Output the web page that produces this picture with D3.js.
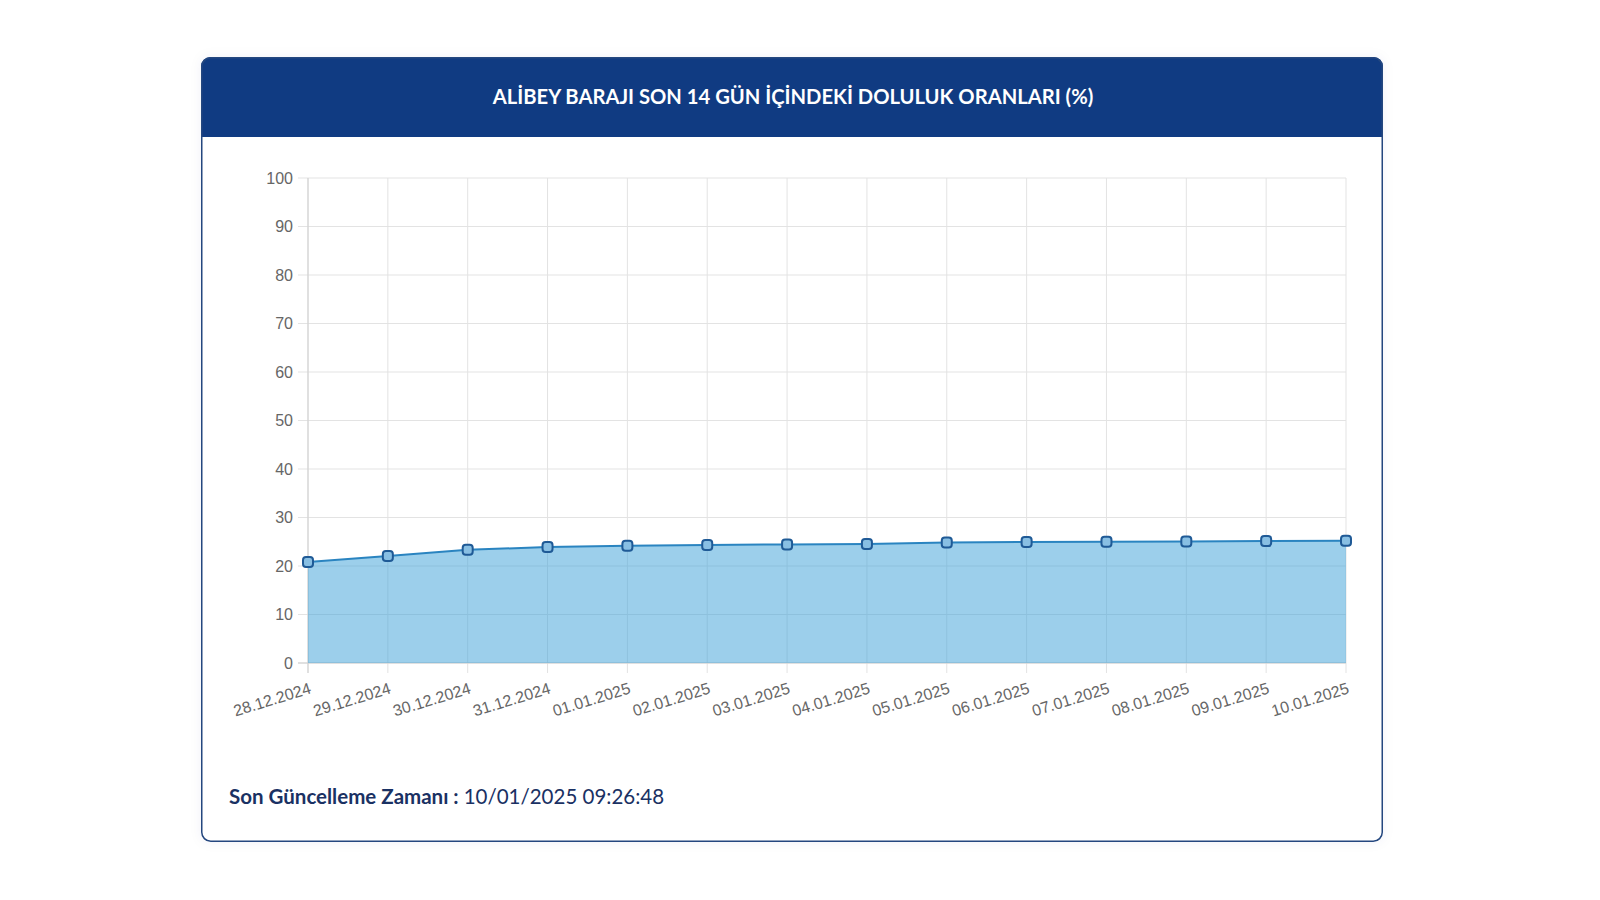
<!DOCTYPE html>
<html>
<head>
<meta charset="utf-8">
<script src="https://cdn.jsdelivr.net/npm/d3@7"></script>
<style>
  html, body { margin: 0; padding: 0; background: #ffffff; }
  svg { display: block; }
</style>
</head>
<body>
<svg id="chart" width="1600" height="900"></svg>
<script>
const categories = ["28.12.2024","29.12.2024","30.12.2024","31.12.2024","01.01.2025","02.01.2025","03.01.2025","04.01.2025","05.01.2025","06.01.2025","07.01.2025","08.01.2025","09.01.2025","10.01.2025"];
const values = [20.8, 22.05, 23.35, 23.9, 24.2, 24.35, 24.45, 24.55, 24.85, 24.95, 25.0, 25.05, 25.15, 25.2];
const yTicks = [0,10,20,30,40,50,60,70,80,90,100];
const titleText = "ALİBEY BARAJI SON 14 GÜN İÇİNDEKİ DOLULUK ORANLARI (%)";
const footerLabel = "Son Güncelleme Zamanı : ";
const footerValue = "10/01/2025 09:26:48";

const svg = d3.select("#chart");

// card
const card = {x: 201, y: 57, w: 1182, h: 785, r: 9, headerH: 80};
const defs = svg.append("defs");
const f = defs.append("filter").attr("id","sh").attr("x","-5%").attr("y","-5%").attr("width","110%").attr("height","110%");
f.append("feDropShadow").attr("dx",0).attr("dy",0).attr("stdDeviation",6).attr("flood-color","#1b3a7a").attr("flood-opacity",0.06);

svg.append("rect").attr("x",card.x).attr("y",card.y).attr("width",card.w).attr("height",card.h)
  .attr("rx",card.r).attr("fill","#ffffff").attr("filter","url(#sh)");
const hp = d3.path();
hp.moveTo(card.x, card.y + card.headerH);
hp.lineTo(card.x, card.y + card.r);
hp.arcTo(card.x, card.y, card.x + card.r, card.y, card.r);
hp.lineTo(card.x + card.w - card.r, card.y);
hp.arcTo(card.x + card.w, card.y, card.x + card.w, card.y + card.r, card.r);
hp.lineTo(card.x + card.w, card.y + card.headerH);
hp.closePath();
svg.append("path").attr("d", hp.toString()).attr("fill","#103b82");
svg.append("rect").attr("x",card.x+0.75).attr("y",card.y+0.75).attr("width",card.w-1.5).attr("height",card.h-1.5)
  .attr("rx",card.r).attr("fill","none").attr("stroke","#24477f").attr("stroke-width",1.5);

svg.append("text").attr("x", card.x + card.w/2 + 1).attr("y", card.y + 47)
  .attr("text-anchor","middle").attr("fill","#ffffff")
  .style("font-family","Lato, 'Noto Sans', sans-serif").style("font-weight","700").style("font-size","20.2px")
  .text(titleText);

// plot
const plot = {left: 308, right: 1346, top: 178, bottom: 663};
const x = d3.scalePoint().domain(categories).range([plot.left, plot.right]);
const y = d3.scaleLinear().domain([0,100]).range([plot.bottom, plot.top]);

const g = svg.append("g");
g.append("g").selectAll("line").data(yTicks).join("line")
  .attr("x1", plot.left - 10).attr("x2", plot.right)
  .attr("y1", d => y(d)).attr("y2", d => y(d))
  .attr("stroke","#e3e3e3").attr("stroke-width",1);
g.append("g").selectAll("line").data(categories).join("line")
  .attr("x1", d => x(d)).attr("x2", d => x(d))
  .attr("y1", plot.top).attr("y2", plot.bottom + 10)
  .attr("stroke","#e3e3e3").attr("stroke-width",1);
g.append("line").attr("x1",plot.left).attr("x2",plot.left).attr("y1",plot.top).attr("y2",plot.bottom+10)
  .attr("stroke","#cfcfcf");
g.append("line").attr("x1",plot.left-10).attr("x2",plot.right).attr("y1",plot.bottom).attr("y2",plot.bottom)
  .attr("stroke","#cfcfcf");

g.append("g").selectAll("text").data(yTicks).join("text")
  .attr("x", plot.left - 15).attr("y", d => y(d)).attr("dy","0.36em")
  .attr("text-anchor","end").attr("fill","#666666")
  .style("font-family","'Liberation Sans', Arial, sans-serif").style("font-size","16px")
  .text(d => d);

g.append("g").selectAll("text").data(categories).join("text")
  .attr("transform", d => `translate(${x(d)+4},${plot.bottom + 30}) rotate(-17)`)
  .attr("text-anchor","end").attr("fill","#666666")
  .style("font-family","'Liberation Sans', Arial, sans-serif").style("font-size","16px")
  .text(d => d);

const data = categories.map((c,i) => ({c, v: values[i]}));
const area = d3.area().x(d => x(d.c)).y0(y(0)).y1(d => y(d.v));
const line = d3.line().x(d => x(d.c)).y(d => y(d.v));
g.append("path").datum(data).attr("d", area).attr("fill","rgb(57,159,215)").attr("fill-opacity",0.5);
g.append("path").datum(data).attr("d", line).attr("fill","none").attr("stroke","#2a84c0").attr("stroke-width",2);
const ps = 10;
g.append("g").selectAll("rect").data(data).join("rect")
  .attr("x", d => x(d.c) - ps/2).attr("y", d => y(d.v) - ps/2)
  .attr("width", ps).attr("height", ps).attr("rx", 3)
  .attr("fill","#88bfe3").attr("stroke","#1f5a96").attr("stroke-width",2);

const ft = svg.append("text").attr("x", 229).attr("y", 804)
  .attr("fill","#1a3163")
  .style("font-family","Lato, 'Noto Sans', sans-serif").style("font-size","20.5px");
ft.append("tspan").style("font-weight","700").text(footerLabel);
ft.append("tspan").style("font-weight","400").text(footerValue);
</script>
</body>
</html>
